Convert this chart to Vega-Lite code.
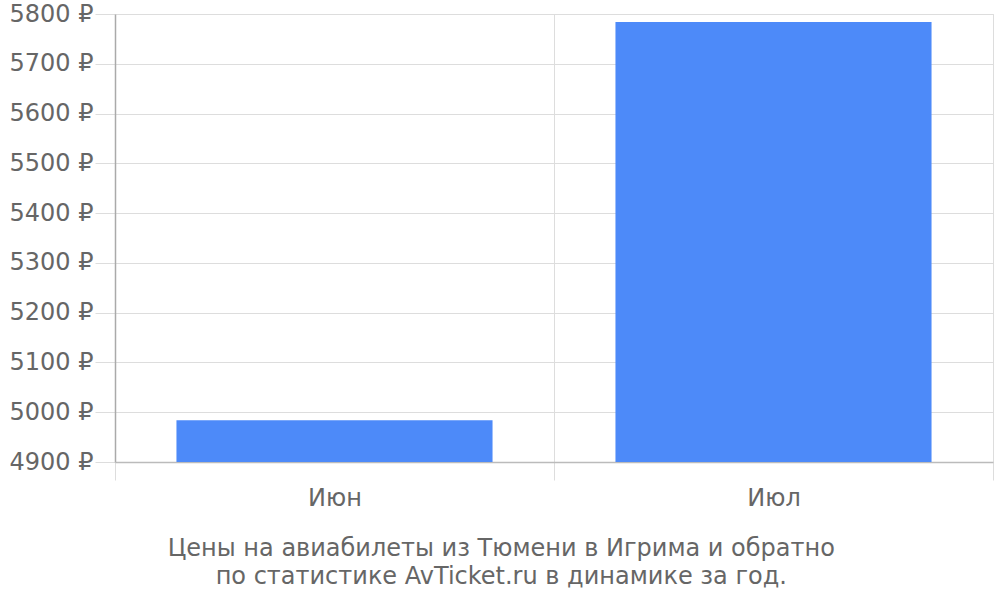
{
  "$schema": "https://vega.github.io/schema/vega-lite/v6.json",
  "autosize": {"type": "none"},
  "width": 878,
  "height": 448,
  "padding": {"left": 115, "top": 14, "right": 7, "bottom": 138},
  "background": "white",
  "title": {
    "text": ["Цены на авиабилеты из Тюмени в Игрима и обратно", "по статистике AvTicket.ru в динамике за год."],
    "orient": "bottom",
    "anchor": "middle",
    "frame": "bounds",
    "font": "DejaVu Sans",
    "fontSize": 24,
    "fontWeight": "normal",
    "color": "#666666",
    "lineHeight": 28,
    "offset": 27
  },
  "data": {
    "values": [
      {"month": "Июн", "price": 4984},
      {"month": "Июл", "price": 5784}
    ]
  },
  "mark": {"type": "bar", "color": "#4d8af9", "clip": true, "width": {"band": 0.72}},
  "encoding": {
    "x": {
      "field": "month",
      "type": "nominal",
      "sort": null,
      "scale": {"paddingInner": 0, "paddingOuter": 0},
      "axis": {
        "title": null,
        "labelAngle": 0,
        "tickBand": "extent",
        "grid": true,
        "gridColor": "#dddddd",
        "tickColor": "#dddddd",
        "tickSize": 18,
        "domainColor": "#bbbbbb",
        "labelPadding": 6
      }
    },
    "y": {
      "field": "price",
      "type": "quantitative",
      "scale": {"domain": [4900, 5800], "zero": false, "nice": false},
      "axis": {
        "title": null,
        "values": [4900, 5000, 5100, 5200, 5300, 5400, 5500, 5600, 5700, 5800],
        "labelExpr": "datum.value + ' ₽'",
        "gridColor": "#dddddd",
        "tickColor": "#dddddd",
        "tickSize": 20,
        "domainColor": "#aaaaaa",
        "labelPadding": 2
      }
    }
  },
  "config": {
    "view": {"stroke": "#dddddd"},
    "axis": {
      "labelFont": "DejaVu Sans",
      "labelFontSize": 24,
      "labelColor": "#666666",
      "domainWidth": 1.5
    }
  }
}
